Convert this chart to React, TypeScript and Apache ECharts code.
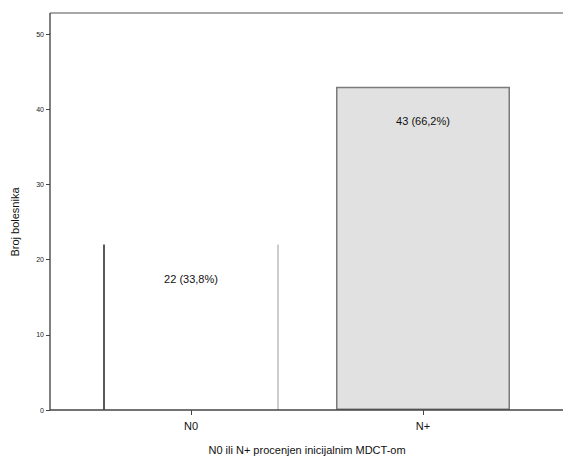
import React, { useEffect, useRef } from "react";
import * as echarts from "echarts";

// Patients by initial MDCT nodal assessment
const categories = ["N0", "N+"];
const counts = [22, 43];
const percents = ["33,8", "66,2"];
const yTicks = [0, 10, 20, 30, 40, 50];

const FONT = "'Liberation Sans', Arial, sans-serif";

export default function App() {
  const ref = useRef<HTMLDivElement>(null);

  useEffect(() => {
    document.body.style.margin = "0";
    const chart = echarts.init(ref.current!, null, { renderer: "svg" });

    const gridLeft = 75;
    const gridRight = 24;
    const gridTop = 34;
    const gridBottom = 50;
    const W = 563;
    const H = 460;
    const axisY = H - gridBottom;

    chart.setOption({
      animation: false,
      backgroundColor: "#ffffff",
      grid: { left: gridLeft, right: gridRight, top: gridTop, bottom: gridBottom },
      xAxis: {
        type: "category",
        data: categories,
        name: "N0 ili N+ procenjen inicijalnim MDCT-om",
        nameLocation: "middle",
        nameGap: 34,
        nameTextStyle: { fontFamily: FONT, fontSize: 11, color: "#111" },
        axisLine: { show: false },
        axisTick: {
          show: true,
          alignWithLabel: true,
          length: 5,
          lineStyle: { color: "#444", width: 1 },
        },
        axisLabel: { fontFamily: FONT, fontSize: 11, color: "#111", margin: 10 },
        splitLine: { show: false },
      },
      yAxis: {
        type: "value",
        min: 0,
        max: yTicks[yTicks.length - 1],
        interval: 10,
        offset: gridLeft - 50,
        name: "Broj bolesnika",
        nameLocation: "middle",
        nameGap: 30,
        nameTextStyle: { fontFamily: FONT, fontSize: 11, color: "#111" },
        axisLine: { show: true, lineStyle: { color: "#555", width: 1.5 } },
        axisTick: { show: true, length: 4, lineStyle: { color: "#444" } },
        axisLabel: { fontFamily: FONT, fontSize: 7, color: "#222", margin: 6 },
        splitLine: { show: false },
      },
      graphic: [
        // top frame line
        {
          type: "line",
          shape: { x1: 50, y1: 13, x2: W, y2: 13 },
          style: { stroke: "#8a8a8a", lineWidth: 1.5 },
          z: 1,
        },
        // y-axis line continued to the frame
        {
          type: "line",
          shape: { x1: 50, y1: 13, x2: 50, y2: gridTop },
          style: { stroke: "#555", lineWidth: 1.5 },
          z: 1,
        },
        // x-axis base line across the full frame width
        {
          type: "line",
          shape: { x1: 50, y1: axisY, x2: W, y2: axisY },
          style: { stroke: "#444", lineWidth: 1.5 },
          z: 10,
        },
      ],
      series: [
        {
          type: "bar",
          barWidth: "75%",
          data: counts.map((v, i) => ({
            value: v,
            itemStyle:
              i === 0
                ? { color: "#ffffff", borderWidth: 0 }
                : { color: "#e1e1e1", borderColor: "#7a7a7a", borderWidth: 1.5 },
          })),
          label: {
            show: true,
            position: "insideTop",
            distance: 29,
            fontFamily: FONT,
            fontSize: 11,
            color: "#111",
            formatter: (p: any) => `${p.value} (${percents[p.dataIndex]}%)`,
          },
        },
        {
          // side edges of the N0 bar: dark on the left, light on the right
          type: "custom",
          data: [[0, counts[0]]],
          renderItem: (params: any, api: any) => {
            const top = api.coord([api.value(0), api.value(1)]);
            const base = api.coord([api.value(0), 0]);
            const band = api.size([1, 0])[0];
            const half = (band * 0.75) / 2;
            return {
              type: "group",
              children: [
                {
                  type: "line",
                  shape: { x1: top[0] - half, y1: top[1], x2: top[0] - half, y2: base[1] },
                  style: { stroke: "#222", lineWidth: 1.5 },
                },
                {
                  type: "line",
                  shape: { x1: top[0] + half, y1: top[1], x2: top[0] + half, y2: base[1] },
                  style: { stroke: "#bdbdbd", lineWidth: 1.5 },
                },
              ],
            };
          },
          z: 5,
        },
      ],
    });

    return () => chart.dispose();
  }, []);

  return <div ref={ref} style={{ width: 563, height: 460 }} />;
}
